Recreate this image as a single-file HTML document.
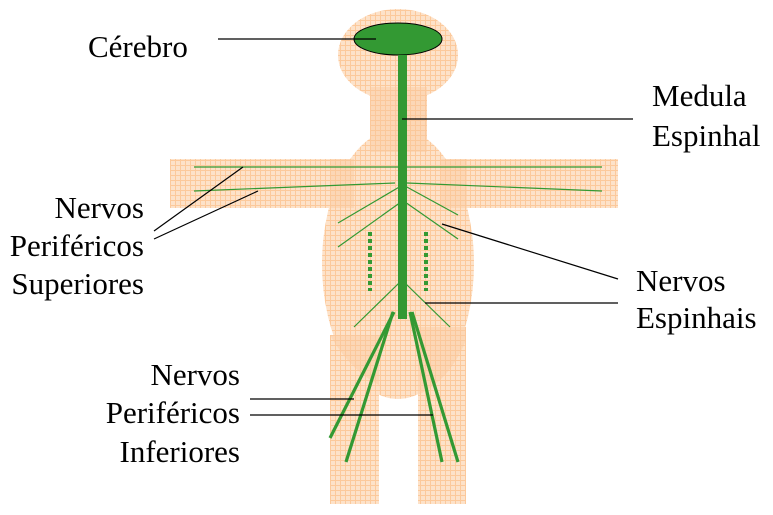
<!DOCTYPE html>
<html><head><meta charset="utf-8"><style>
html,body{margin:0;padding:0;background:#fff;width:773px;height:515px;overflow:hidden;position:relative}
svg{display:block;position:absolute;left:0;top:0}
.t{position:absolute;font-family:"Liberation Serif","DejaVu Serif",serif;font-size:31px;line-height:31px;color:#000;white-space:nowrap}
.r{text-align:right}
</style></head><body>
<svg width="773" height="515" viewBox="0 0 773 515" xmlns="http://www.w3.org/2000/svg">
<defs>
<pattern id="g" width="5" height="5" patternUnits="userSpaceOnUse">
<rect width="5" height="5" fill="#fde2c9"/>
<path d="M0 0.5H5M0.5 0V5" stroke="#fcc99b" stroke-width="1"/>
</pattern>
</defs>
<ellipse cx="398" cy="55" rx="60" ry="46" fill="url(#g)"/>
<rect x="330" y="335" width="49" height="169" fill="url(#g)"/>
<rect x="418" y="327" width="48" height="177" fill="url(#g)"/>
<rect x="370" y="87" width="57" height="65" fill="url(#g)"/>
<rect x="170" y="159" width="448" height="49" fill="url(#g)"/>
<ellipse cx="398" cy="264" rx="76" ry="135" fill="url(#g)"/>
<g fill="#fbc89a" opacity="0.4">
<rect x="370" y="87" width="57" height="65"/>
<path d="M330 335H379V385Q350 370 330 335Z"/>
<path d="M418 327H466V340Q450 380 418 395Z"/>
<rect x="330" y="159" width="24" height="49"/>
<rect x="441" y="159" width="26" height="49"/>
</g>
<ellipse cx="398" cy="39" rx="44" ry="16" fill="#339933" stroke="#000" stroke-width="1"/>
<g stroke="#339933" stroke-width="1.2" fill="none">
<line x1="194" y1="167" x2="602" y2="167"/>
<line x1="194" y1="191" x2="395" y2="183"/>
<line x1="407" y1="183" x2="602" y2="191"/>
<line x1="401" y1="186" x2="338" y2="223"/>
<line x1="405" y1="186" x2="458" y2="215"/>
<line x1="401" y1="202" x2="338" y2="247"/>
<line x1="405" y1="202" x2="458" y2="239"/>
<line x1="399" y1="283" x2="354" y2="327"/>
<line x1="405" y1="283" x2="450" y2="327"/>
</g>
<g stroke="#339933" stroke-width="4" stroke-dasharray="4 3">
<line x1="370" y1="232" x2="370" y2="291"/>
<line x1="426" y1="232" x2="426" y2="291"/>
</g>
<rect x="398" y="55" width="9" height="264" fill="#339933"/>
<g stroke="#339933" stroke-width="3.2">
<line x1="394" y1="312" x2="330" y2="438"/>
<line x1="393" y1="312" x2="346" y2="462"/>
<line x1="410" y1="312" x2="442" y2="462"/>
<line x1="412" y1="312" x2="458" y2="462"/>
</g>
<g stroke="#000" stroke-width="1.2">
<line x1="218" y1="39" x2="376" y2="39"/>
<line x1="402" y1="119" x2="633" y2="119"/>
<line x1="154" y1="231" x2="243" y2="167"/>
<line x1="154" y1="239" x2="258" y2="191"/>
<line x1="442" y1="224" x2="618" y2="279"/>
<line x1="425" y1="303" x2="618" y2="303"/>
<line x1="250" y1="399" x2="354" y2="399"/>
<line x1="250" y1="415" x2="433" y2="415"/>
</g>
</svg>
<div class="t" style="left:88px;top:31px">Cérebro</div>
<div class="t" style="left:652px;top:80px">Medula</div>
<div class="t" style="left:652px;top:120px">Espinhal</div>
<div class="t" style="left:636px;top:265px">Nervos</div>
<div class="t" style="left:636px;top:302px">Espinhais</div>
<div class="t r" style="right:629px;top:192px">Nervos</div>
<div class="t r" style="right:629px;top:230px">Periféricos</div>
<div class="t r" style="right:629px;top:268px">Superiores</div>
<div class="t r" style="right:533px;top:359px">Nervos</div>
<div class="t r" style="right:533px;top:397px">Periféricos</div>
<div class="t r" style="right:533px;top:436px">Inferiores</div>
</body></html>
